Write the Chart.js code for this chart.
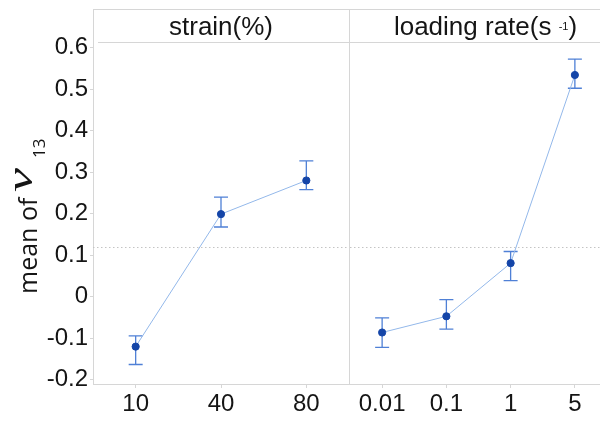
<!DOCTYPE html>
<html>
<head>
<meta charset="utf-8">
<script src="https://cdn.jsdelivr.net/npm/chart.js@4/dist/chart.umd.min.js"></script>
<style>
  html, body { margin: 0; padding: 0; background: #fff; overflow: hidden; }
  #wrap { position: relative; width: 600px; height: 428px; overflow: hidden; }
  #left { position: absolute; left: 0; top: 0; width: 350px; height: 428px; }
  #right { position: absolute; left: 350px; top: 0; width: 257px; height: 428px; }
</style>
</head>
<body>
<div id="wrap">
  <div id="left"><canvas id="strainChart"></canvas></div>
  <div id="right"><canvas id="rateChart"></canvas></div>
</div>
<script>
// main effects of strain and loading rate on nu13
const strainLabels = ['10', '40', '80'];
const strainMean = [-0.120, 0.199, 0.280];
const strainLow = [-0.163, 0.168, 0.258];
const strainHigh = [-0.094, 0.240, 0.327];

const rateLabels = ['0.01', '0.1', '1', '5'];
const rateMean = [-0.086, -0.047, 0.081, 0.534];
const rateLow = [-0.122, -0.078, 0.039, 0.502];
const rateHigh = [-0.051, -0.007, 0.109, 0.572];

const yTicks = [-0.2, -0.1, 0, 0.1, 0.2, 0.3, 0.4, 0.5, 0.6];
const grandMean = 0.12;

const GRID = '#d6d6d6';
const FONT = "'Liberation Sans', Arial, sans-serif";
const TEXT = '#151515';
const STRIP_TOP = 9;

function drawParts(ctx, parts, cx, cy) {
  let total = 0;
  parts.forEach(p => { ctx.font = p.size + 'px ' + FONT; p.w = ctx.measureText(p.t).width; total += p.w; });
  let x = cx - total / 2;
  ctx.textAlign = 'left';
  ctx.textBaseline = 'alphabetic';
  parts.forEach(p => {
    ctx.font = p.size + 'px ' + FONT;
    ctx.fillText(p.t, x, cy + p.dy);
    x += p.w;
  });
}

function panelPlugin(cfg) {
  return {
    id: 'panel',
    beforeDatasetsDraw(chart) {
      const { ctx, chartArea: a, scales: { x, y } } = chart;
      ctx.save();
      // dotted grand mean
      ctx.strokeStyle = '#c4c4c4';
      ctx.lineWidth = 1;
      ctx.setLineDash([1.5, 2.5]);
      const gy = Math.round(y.getPixelForValue(grandMean)) + 0.5;
      ctx.beginPath();
      ctx.moveTo(a.left, gy);
      ctx.lineTo(a.right, gy);
      ctx.stroke();
      ctx.setLineDash([]);
      // error bars
      ctx.strokeStyle = '#4f80d6';
      ctx.lineWidth = 1.3;
      cfg.low.forEach((lo, i) => {
        const px = x.getPixelForValue(i);
        const y1 = y.getPixelForValue(lo);
        const y2 = y.getPixelForValue(cfg.high[i]);
        ctx.beginPath();
        ctx.moveTo(px, y1); ctx.lineTo(px, y2);
        ctx.moveTo(px - 7, y1); ctx.lineTo(px + 7, y1);
        ctx.moveTo(px - 7, y2); ctx.lineTo(px + 7, y2);
        ctx.stroke();
      });
      ctx.restore();
    },
    afterDraw(chart) {
      const { ctx, chartArea: a, width } = chart;
      ctx.save();
      // header strip
      ctx.strokeStyle = GRID;
      ctx.lineWidth = 1;
      ctx.beginPath();
      ctx.moveTo(a.left, STRIP_TOP + 0.5); ctx.lineTo(width, STRIP_TOP + 0.5);
      ctx.moveTo(a.left + (cfg.first ? 5 : 0), a.top - 0.5); ctx.lineTo(width, a.top - 0.5);
      if (cfg.first) {
        ctx.moveTo(a.left + 0.5, STRIP_TOP); ctx.lineTo(a.left + 0.5, a.top);
        ctx.moveTo(width - 0.5, STRIP_TOP); ctx.lineTo(width - 0.5, a.bottom);
      }
      ctx.stroke();
      ctx.fillStyle = TEXT;
      drawParts(ctx, cfg.header, (a.left + a.right) / 2 + (cfg.headerShift || 0), 34.5);

      if (cfg.first) {
        // y axis title: mean of nu_13
        ctx.textAlign = 'left';
        ctx.textBaseline = 'alphabetic';
        ctx.save();
        ctx.translate(37, 294);
        ctx.rotate(-Math.PI / 2);
        ctx.font = "25px 'Open Sans', sans-serif";
        ctx.fillText('mean of', 0, 0);
        ctx.restore();

        ctx.save();
        ctx.translate(32, 192);
        ctx.rotate(-Math.PI / 2);
        ctx.font = "italic 36px 'Liberation Serif', serif";
        const nw = ctx.measureText('\u03bd').width;
        ctx.scale(Math.min(1.5, 30 / nw), 1);
        ctx.fillText('\u03bd', 0, 0);
        ctx.restore();

        ctx.save();
        ctx.translate(45, 158);
        ctx.rotate(-Math.PI / 2);
        ctx.font = "17px 'Open Sans', sans-serif";
        ctx.fillText('13', 0, 0);
        ctx.restore();
      }
      ctx.restore();
    }
  };
}

function makePanel(id, labels, mean, low, high, cfg) {
  return new Chart(document.getElementById(id), {
    type: 'line',
    data: {
      labels: labels,
      datasets: [{
        data: mean,
        borderColor: '#93b8ea',
        borderWidth: 1,
        pointRadius: 3.6,
        pointBackgroundColor: '#1445a8',
        pointBorderColor: '#1445a8',
        pointBorderWidth: 1,
        tension: 0
      }]
    },
    options: {
      responsive: true,
      maintainAspectRatio: false,
      animation: false,
      layout: { autoPadding: false, padding: { top: 43, right: cfg.first ? 1 : 0, left: 0, bottom: 0 } },
      plugins: { legend: { display: false }, tooltip: { enabled: false } },
      scales: {
        x: {
          type: 'category',
          offset: true,
          grid: { display: true, drawOnChartArea: false, tickLength: 4, color: GRID },
          border: { display: true, color: GRID },
          ticks: { font: { family: FONT, size: 24 }, color: TEXT, padding: 2, maxRotation: 0, autoSkip: false },
          afterFit(s) { s.height = 44; s.paddingLeft = 0; s.paddingRight = 0; }
        },
        y: {
          display: cfg.first,
          min: -0.21,
          max: 0.611,
          grid: { display: true, drawOnChartArea: false, tickLength: 3, color: GRID },
          border: { display: true, color: GRID },
          ticks: {
            font: { family: FONT, size: 24 },
            color: TEXT,
            padding: 2,
            callback: v => Math.abs(v) < 1e-9 ? '0' : v.toFixed(1)
          },
          afterBuildTicks(s) { s.ticks = yTicks.map(v => ({ value: v })); },
          afterFit(s) { s.width = cfg.first ? 93 : 0; s.paddingTop = 0; s.paddingBottom = 0; }
        }
      }
    },
    plugins: [panelPlugin(Object.assign({ low: low, high: high }, cfg))]
  });
}

makePanel('strainChart', strainLabels, strainMean, strainLow, strainHigh, {
  first: true,
  header: [{ t: 'strain(%)', size: 26, dy: 0 }]
});

makePanel('rateChart', rateLabels, rateMean, rateLow, rateHigh, {
  first: false,
  headerShift: 7,
  header: [
    { t: 'loading rate(s ', size: 26, dy: 0 },
    { t: '-1', size: 11, dy: -4.5 },
    { t: ')', size: 26, dy: 0 }
  ]
});
</script>
</body>
</html>
